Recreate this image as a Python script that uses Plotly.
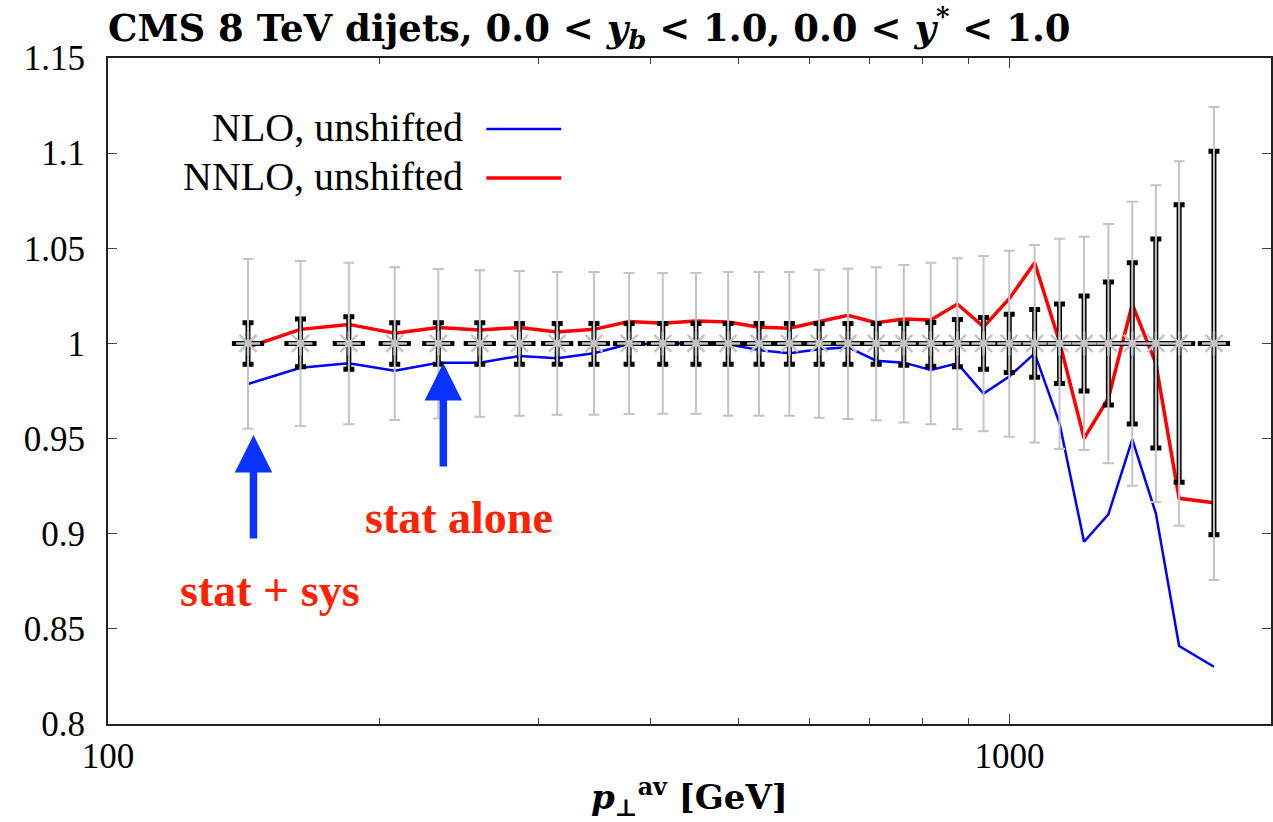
import math
import plotly.graph_objects as go

# ---- data ----
pt = [143, 163.5, 185, 208, 232.5, 258.5, 286, 315, 346, 378.5, 412.5, 449, 487.5,
      527.5, 570, 615, 662, 711.5, 763.5, 818, 875.5, 936, 999.5, 1066.5, 1136.5,
      1210, 1287.5, 1368.5, 1453.5, 1542.5, 1686]
nlo = [0.9787, 0.9872, 0.9896, 0.9856, 0.9899, 0.9899, 0.9934, 0.9922, 0.9948, 0.9997,
       0.9997, 1.0004, 0.9995, 0.9965, 0.9948, 0.9969, 0.9980, 0.9909, 0.9899, 0.9860,
       0.9895, 0.9736, 0.9826, 0.9948, 0.9580, 0.8958, 0.9102, 0.9496, 0.9107, 0.8410, 0.8301]
nnlo = [0.9980, 1.0074, 1.0100, 1.0053, 1.0084, 1.0070, 1.0084, 1.0060, 1.0074, 1.0115,
        1.0106, 1.0118, 1.0113, 1.0085, 1.0080, 1.0114, 1.0148, 1.0109, 1.0128, 1.0123,
        1.0207, 1.0087, 1.0235, 1.0424, 1.0008, 0.9501, 0.9712, 1.0206, 0.9895, 0.9186, 0.9163]
data_ratio = [1.0] * len(pt)
tot_up = [0.0444, 0.0433, 0.0424, 0.0400, 0.0391, 0.0384, 0.0380, 0.0375, 0.0375, 0.0370,
          0.0370, 0.0370, 0.0375, 0.0375, 0.0376, 0.0387, 0.0393, 0.0400, 0.0412, 0.0424,
          0.0447, 0.0460, 0.0487, 0.0517, 0.0550, 0.0561, 0.0628, 0.0745, 0.0831, 0.0957, 0.1242]
tot_dn = [0.0448, 0.0434, 0.0425, 0.0402, 0.0394, 0.0385, 0.0380, 0.0375, 0.0375, 0.0371,
          0.0370, 0.0370, 0.0380, 0.0380, 0.0380, 0.0390, 0.0397, 0.0404, 0.0415, 0.0425,
          0.0451, 0.0462, 0.0490, 0.0520, 0.0555, 0.0560, 0.0630, 0.0748, 0.0833, 0.0958, 0.1243]
stat_up = [0.0109, 0.0128, 0.0140, 0.0109, 0.0109, 0.0109, 0.0105, 0.0105, 0.0105, 0.0105,
           0.0105, 0.0105, 0.0105, 0.0105, 0.0105, 0.0105, 0.0105, 0.0105, 0.0105, 0.0110,
           0.0126, 0.0136, 0.0153, 0.0178, 0.0207, 0.0249, 0.0323, 0.0424, 0.0549, 0.0729, 0.1010]
stat_dn = [0.0109, 0.0122, 0.0136, 0.0110, 0.0110, 0.0110, 0.0110, 0.0110, 0.0110, 0.0110,
           0.0110, 0.0110, 0.0110, 0.0110, 0.0110, 0.0110, 0.0110, 0.0110, 0.0115, 0.0120,
           0.0122, 0.0136, 0.0153, 0.0178, 0.0210, 0.0250, 0.0324, 0.0424, 0.0550, 0.0730, 0.1005]

x_major = [100, 1000]
x_minor = [200, 300, 400, 500, 600, 700, 800, 900, 2000]
y_ticks = [0.8, 0.85, 0.9, 0.95, 1.0, 1.05, 1.1, 1.15]
y_labels = ["0.8", "0.85", "0.9", "0.95", "1", "1.05", "1.1", "1.15"]

W, H = 1273, 822
L, R, T, B = 108, 0, 58, 98
PW, PH = W - L - R, H - T - B

def px(xp):
    return (xp - L) / PW

def py(yp):
    return (H - B - yp) / PH

SERIF = "Liberation Serif"
GRAY = "#c4c4c4"

fig = go.Figure()
fig.add_trace(go.Scatter(x=pt, y=nlo, mode="lines", line=dict(color="#0000ff", width=2.5),
                         showlegend=False))
fig.add_trace(go.Scatter(x=pt, y=nnlo, mode="lines", line=dict(color="#ff0000", width=3.5),
                         showlegend=False))
# stat errors (black, thick)
fig.add_trace(go.Scatter(x=pt, y=data_ratio, mode="markers",
                         marker=dict(symbol="line-ew", size=23, color="black",
                                     line=dict(color="black", width=5)),
                         error_y=dict(type="data", symmetric=False, array=stat_up,
                                      arrayminus=stat_dn, color="black", thickness=5, width=5.5),
                         showlegend=False))
# stat + sys errors (gray)
fig.add_trace(go.Scatter(x=pt, y=data_ratio, mode="markers",
                         marker=dict(symbol="asterisk-open", size=20, color=GRAY,
                                     line=dict(color=GRAY, width=2.5)),
                         error_y=dict(type="data", symmetric=False, array=tot_up,
                                      arrayminus=tot_dn, color=GRAY, thickness=2, width=5.5),
                         showlegend=False))

# legend (gnuplot style: text left of sample)
legend_items = [("NLO, unshifted", "#0000ff", 2.5, 127), ("NNLO, unshifted", "#ff0000", 3.5, 176)]
for txt, col, lw, yc in legend_items:
    fig.add_annotation(xref="paper", yref="paper", x=px(466), y=py(yc), text=txt,
                       showarrow=False, xanchor="right", yanchor="middle",
                       font=dict(family=SERIF, size=40, color="black"))
    fig.add_shape(type="line", xref="paper", yref="paper", x0=px(487), x1=px(562),
                  y0=py(yc + 2), y1=py(yc + 2), line=dict(color=col, width=lw))

# red labels
fig.add_annotation(xref="paper", yref="paper", x=px(460), y=py(517), text="<b>stat alone</b>",
                   showarrow=False, xanchor="center", yanchor="middle",
                   font=dict(family=SERIF, size=46, color="#ff2200"))
fig.add_annotation(xref="paper", yref="paper", x=px(270), y=py(590), text="<b>stat + sys</b>",
                   showarrow=False, xanchor="center", yanchor="middle",
                   font=dict(family=SERIF, size=46, color="#ff2200"))

# blue arrows
arrows = [(145.0, 0.9519, 0.8967), (235.5, 0.9897, 0.9345)]
for xa, ytip, ytail in arrows:
    fig.add_annotation(xref="x", yref="y", axref="x", ayref="y",
                       x=math.log10(xa), y=ytip, ax=math.log10(xa), ay=ytail,
                       text="", showarrow=True, arrowhead=2, arrowsize=1,
                       arrowwidth=7.5, arrowcolor="#0a32ff", standoff=0, startstandoff=0)

# x-axis title
fig.add_annotation(xref="paper", yref="paper", x=0.5, y=py(797),
                   text="<b><i>p</i><sub>⊥</sub><sup>av</sup> [GeV]</b>",
                   showarrow=False, xanchor="center", yanchor="middle",
                   font=dict(family="DejaVu Serif", size=34, color="black"))

fig.update_layout(
    width=W, height=H,
    margin=dict(l=L, r=R, t=T, b=B, pad=0),
    paper_bgcolor="white", plot_bgcolor="white",
    title=dict(text="<b>CMS 8 TeV dijets, 0.0 &lt; <i>y</i><sub><i>b</i></sub> &lt; 1.0, "
                    "0.0 &lt; <i>y</i><sup>*</sup> &lt; 1.0</b>",
               xref="paper", x=0, xanchor="left", yref="container", y=1 - 28 / H,
               yanchor="middle",
               font=dict(family="DejaVu Serif", size=37, color="black")),
    showlegend=False,
)
fig.update_xaxes(type="log", range=[2, 2 + PW / 903.0],
                 tickvals=x_major, ticktext=["100", "1000"],
                 ticks="inside", ticklen=10, tickwidth=1.2, tickcolor="#444",
                 minor=dict(tickvals=x_minor, ticks="inside", ticklen=6, tickwidth=1.2,
                            tickcolor="#444"),
                 showline=True, linecolor="#222", linewidth=2, mirror="ticks",
                 showgrid=False, zeroline=False,
                 tickfont=dict(family=SERIF, size=35, color="black"))
fig.update_yaxes(range=[0.8, 1.15], tickvals=y_ticks, ticktext=y_labels,
                 ticks="inside", ticklen=9, tickwidth=1.2, tickcolor="#444",
                 showline=True, linecolor="#222", linewidth=2, mirror="ticks",
                 showgrid=False, zeroline=False, ticklabelstandoff=14,
                 tickfont=dict(family=SERIF, size=35, color="black"))

fig.write_html("out.html")
